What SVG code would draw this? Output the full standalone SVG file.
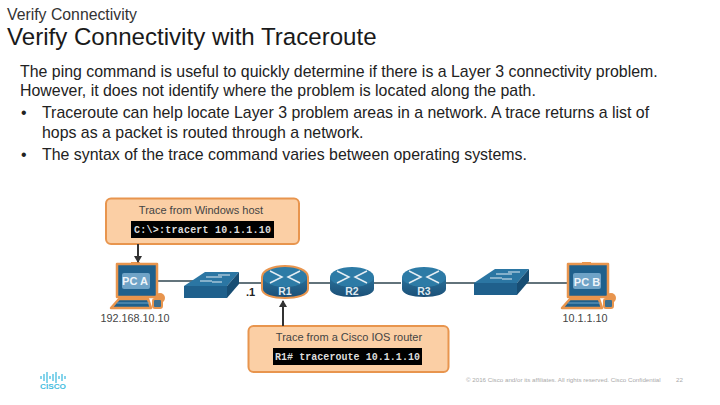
<svg xmlns="http://www.w3.org/2000/svg" width="720" height="405" viewBox="0 0 720 405">
<style>
text{font-family:"Liberation Sans",Arial,sans-serif}
.body{font-size:15.9px;fill:#222}
.cap{font-size:11px;fill:#444;text-anchor:middle}
.cmd{font-family:"Liberation Mono",monospace;font-size:10px;font-weight:bold;fill:#ddd}
.lab{font-size:10.8px;fill:#444;text-anchor:middle}
.call{fill:#fbcfa5;stroke:#e8954e;stroke-width:2}
.wire{stroke:#2f4650;stroke-width:1.5;fill:none}
.arrow{stroke:#333;stroke-width:2;fill:none;marker-end:url(#ah)}
.rn{font-size:10.5px;font-weight:bold;fill:#dfeaf2;text-anchor:middle}
.pcn{font-size:11px;font-weight:bold;fill:#eef4fa;text-anchor:middle}
.x{stroke:#e4edf3;stroke-width:1.5;fill:none}
.foot{font-size:6.2px;fill:#aaa}
</style>
<defs>
<marker id="ah" markerWidth="8" markerHeight="8" refX="6" refY="4" orient="auto" markerUnits="userSpaceOnUse"><path d="M0 0L7 4L0 8z" fill="#333"/></marker>
<linearGradient id="rg" x1="0" y1="0" x2="0" y2="1"><stop offset="0" stop-color="#2a7099"/><stop offset="1" stop-color="#1b5078"/></linearGradient>
<g id="rt">
<path d="M-22 -5V7C-22 12 -12 15 0 15S22 12 22 7V-5z" fill="url(#rg)"/>
<ellipse cx="0" cy="-5" rx="22" ry="10" fill="#2d7ba6"/>
<path class="x" d="M-15 -11L-3 -5L-15 1M15 -11L3 -5L15 1"/>
</g>
<g id="sw">
<path d="M0 14L21 0H55L43 14z" fill="#2b76a3"/>
<path d="M0 14H43V26H0z" fill="#1f608c"/>
<path d="M43 14L55 0V12L43 26z" fill="#174d73"/>
<path d="M16 9H28M22 5H38M28 10H38M34 3H46" stroke="#dfeaf2" stroke-width="1" fill="none"/>
</g>
<g id="pc">
<rect x="-5" y="-27" width="9" height="3" fill="#e8954e"/>
<path d="M-19 -25H21V8H-19z" fill="#1f608c" stroke="#e8954e" stroke-width="2.500" stroke-linejoin="round"/>
<rect x="-14" y="-16" width="28" height="16" rx="2" fill="#6fa3c7"/>
<path d="M-17 10H12L15 19H-25z" fill="#1f608c" stroke="#e8954e" stroke-width="2.500" stroke-linejoin="round"/>
<path d="M-19 14H13" stroke="#6fa3c7" stroke-width="1"/>
<circle cx="24" cy="9" r="5" fill="#e8954e"/>
<rect x="17" y="10" width="9" height="9" rx="2" fill="#3c6f8e" stroke="#e8954e" stroke-width="2"/>
</g>
</defs>

<text x="7" y="20" font-size="15.800" fill="#333">Verify Connectivity</text>
<text x="7" y="45" font-size="24.100" fill="#1a1a1a">Verify Connectivity with Traceroute</text>
<g class="body">
<text x="20" y="77">The ping command is useful to quickly determine if there is a Layer 3 connectivity problem.</text>
<text x="20" y="96">However, it does not identify where the problem is located along the path.</text>
<text x="21" y="118">•</text>
<text x="42" y="118">Traceroute can help locate Layer 3 problem areas in a network. A trace returns a list of</text>
<text x="42" y="138">hops as a packet is routed through a network.</text>
<text x="21" y="160">•</text>
<text x="42" y="160">The syntax of the trace command varies between operating systems.</text>
</g>

<g id="connectors">
<path class="wire" stroke-width="2" d="M157 281H200"/>
<path class="wire" d="M235 283H263M374 283H401M305 283H330M446 283H480M525 283H568"/>
</g>

<g id="win-callout">
<rect class="call" x="106" y="198.500" width="193" height="45.500" rx="5"/>
<text class="cap" x="201" y="214">Trace from Windows host</text>
<rect x="131" y="221" width="143" height="17" fill="#000"/>
<text class="cmd" x="134" y="233" textLength="137">C:\&gt;:tracert 10.1.1.10</text>
</g>
<g id="ios-callout">
<rect class="call" x="248.500" y="326" width="200" height="46" rx="5"/>
<text class="cap" x="349" y="341">Trace from a Cisco IOS router</text>
<rect x="273" y="348" width="149" height="17" fill="#000"/>
<text class="cmd" x="275" y="360" textLength="145">R1# traceroute 10.1.1.10</text>
</g>

<g id="pca"><use href="#pc" x="136" y="289"/><text class="pcn" x="135" y="285">PC A</text><text class="lab" x="135" y="322">192.168.10.10</text></g>
<g id="sw1"><use href="#sw" x="184" y="272"/></g>
<text id="dot1" x="246" y="296" font-size="11" font-weight="bold" fill="#222">.1</text>
<g id="r1"><path d="M-22 -5C-22 -11 -12 -15 0 -15S22 -11 22 -5V7C22 12 12 15 0 15S-22 12 -22 7z" transform="translate(285 282)" fill="#e8954e" stroke="#e8954e" stroke-width="4" stroke-linejoin="round"/><use href="#rt" x="285" y="282"/><text class="rn" x="285" y="295">R1</text></g>
<g id="r2"><use href="#rt" x="352" y="282"/><text class="rn" x="352" y="295">R2</text></g>
<g id="r3"><use href="#rt" x="424" y="282"/><text class="rn" x="424" y="295">R3</text></g>
<g id="sw2"><use href="#sw" x="474" y="269"/></g>
<g id="pcb"><use href="#pc" x="587" y="289"/><text class="pcn" x="587" y="286">PC B</text><text class="lab" x="585" y="322">10.1.1.10</text></g>

<g id="arrows">
<path class="arrow" d="M138 244V262"/>
<path class="arrow" d="M283 326V301"/>
</g>

<g id="logo">
<path d="M41 376v3M44 374v7M47 372v11M50 376v3M53 374v7M56 372v11M59 376v3M62 374v7M65 376v3" stroke="#45bde0" stroke-width="1.300" fill="none"/>
<text x="40" y="389" font-size="8" font-weight="bold" fill="#45bde0" textLength="26" lengthAdjust="spacingAndGlyphs">CISCO</text>
</g>
<text class="foot" x="466" y="382">© 2016 Cisco and/or its affiliates. All rights reserved. Cisco Confidential</text>
<text class="foot" x="676" y="382">22</text>
</svg>
